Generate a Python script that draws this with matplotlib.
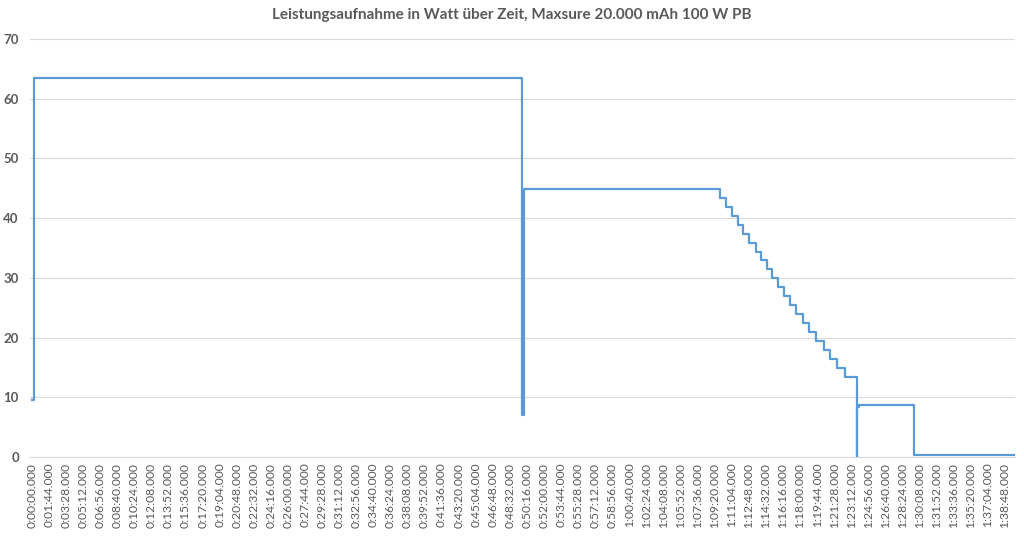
import matplotlib.pyplot as plt
from matplotlib.ticker import FixedLocator, FuncFormatter

plt.rcParams['font.family'] = ['Lato', 'DejaVu Sans']

# Breakpoints of the measured power curve (seconds since start, watts)
t_sec = [0, 10, 2988, 2998, 4195, 4228, 4265, 4300, 4335, 4370, 4410, 4445, 4478,
         4512, 4548, 4585, 4620, 4655, 4700, 4735, 4780, 4825, 4865, 4905, 4955,
         5025, 5028, 5040, 5372, 5990]
watt = [9.5, 63.4, 7.0, 44.9, 43.4, 41.9, 40.4, 38.9, 37.4, 35.9, 34.4, 32.9,
        31.4, 29.9, 28.4, 26.9, 25.4, 23.9, 22.4, 20.9, 19.4, 17.9, 16.4, 14.9,
        13.4, 0.0, 8.3, 8.7, 0.3, 0.3]

tick_step = 104
n_ticks = 58


def fmt_time(s, pos=None):
    s = int(round(s))
    return f"{s // 3600}:{(s % 3600) // 60:02d}:{s % 60:02d}.000"


fig = plt.figure(figsize=(10.24, 5.39), dpi=100)
ax = fig.add_axes([0.0293, 0.152, 0.9619, 0.776])

ax.step(t_sec, watt, where='post', color='#5B9BD5', lw=1.6)

ax.set_xlim(-12, 5990)
ax.set_ylim(0, 70)
ax.set_yticks(range(0, 71, 10))
ax.xaxis.set_major_locator(FixedLocator([i * tick_step for i in range(n_ticks)]))
ax.xaxis.set_major_formatter(FuncFormatter(fmt_time))
ax.grid(axis='y', color='#D9D9D9', lw=0.8)
ax.set_axisbelow(True)
for side in ['left', 'right', 'top']:
    ax.spines[side].set_visible(False)
ax.spines['bottom'].set_color('#D9D9D9')
ax.tick_params(axis='both', length=0, colors='#595959')
ax.tick_params(axis='y', labelsize=9.5, pad=8)
ax.tick_params(axis='x', labelsize=8.7, rotation=90, pad=4)
for lbl in ax.get_yticklabels():
    lbl.set_fontweight('bold')

fig.text(0.5, 0.972, 'Leistungsaufnahme in Watt über Zeit, Maxsure 20.000 mAh 100 W PB',
         ha='center', va='center', fontsize=11, color='#595959', fontweight='bold')

fig.savefig('out.png', dpi=100)
